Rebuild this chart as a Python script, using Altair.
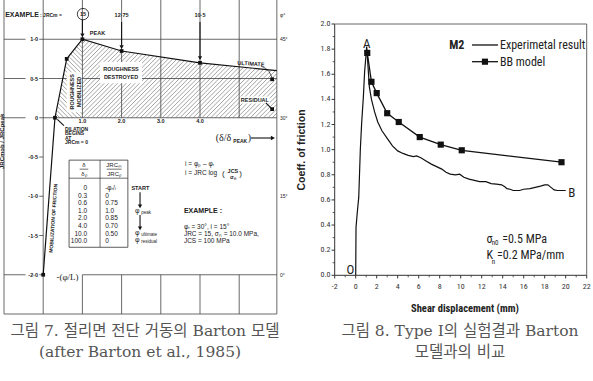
import altair as alt
import numpy as np
import pandas as pd

# ================= Fig. 8 (right panel) data =================
exp_disp = [0.0, 0.03, 0.15, 0.29, 0.44, 0.56, 0.73, 0.85, 1.05, 1.3, 1.5, 1.8, 2.1, 2.5,
            3.0, 3.5, 4.0, 4.5, 5.0, 5.5, 5.8, 6.2, 6.7, 7.2, 7.7, 8.2, 8.6, 9.0, 9.5, 9.9,
            10.3, 10.8, 11.3, 11.8, 12.4, 12.9, 13.4, 13.9, 14.2, 14.4, 14.7, 15.0, 15.6,
            16.0, 16.6, 17.1, 17.6, 18.0, 18.3, 18.6, 18.9, 19.2, 20.0]
exp_coef = [0.0, 0.38, 0.5, 0.62, 1.0, 1.2, 1.42, 1.62, 1.82, 1.5, 1.4, 1.3, 1.22, 1.15,
            1.09, 1.03, 0.99, 0.97, 0.955, 0.945, 0.95, 0.935, 0.91, 0.885, 0.865, 0.845, 0.82,
            0.805, 0.80, 0.805, 0.78, 0.765, 0.755, 0.745, 0.745, 0.73, 0.725, 0.72, 0.705,
            0.69, 0.685, 0.675, 0.675, 0.685, 0.69, 0.70, 0.71, 0.72, 0.72, 0.70, 0.68, 0.675, 0.675]
bb_disp = [1.1, 1.5, 2.0, 3.0, 4.1, 6.1, 8.1, 10.1, 19.6]
bb_coef = [1.77, 1.54, 1.45, 1.29, 1.22, 1.10, 1.04, 0.995, 0.90]
x_ticks = [-2, 0, 2, 4, 6, 8, 10, 12, 14, 16, 18, 20, 22]
x_minor = [-1, 1, 3, 5, 7, 9, 11, 13, 15, 17, 19, 21]
y_ticks = [0.0, 0.2, 0.4, 0.6, 0.8, 1.0, 1.2, 1.4, 1.6, 1.8, 2.0]
y_minor = [0.1, 0.3, 0.5, 0.7, 0.9, 1.1, 1.3, 1.5, 1.7, 1.9]
assert len(exp_disp) == len(exp_coef)

# ================= Fig. 7 (left panel, Barton model) data =================
barton_d = [0.0, 0.3, 0.6, 1.0, 2.0, 4.0, 5.96]
barton_jrc = [-2.0, 0.0, 0.75, 1.0, 0.85, 0.70, 0.60]
left_y_ticks = [1.0, 0.5, 0.0, -0.5, -1.0, -1.5, -2.0]
left_y_labels = ["1·0", "0·5", "0", "-0·5", "-1·0", "-1·5", "-2·0"]
left_x_ticks = [1.0, 2.0, 3.0, 4.0]
left_x_labels = ["1.0", "2.0", "3.0", "4.0"]
phi_levels = [1.0, 0.0, -1.0, -2.0]
phi_labels = ["45°", "30°", "15°", "0°"]
table_d = ["0", "0.3", "0.6", "1.0", "2.0", "4.0", "10.0", "100.0"]
table_jrc = ["-φᵣ/ᵢ", "0", "0.75", "1.0", "0.85", "0.70", "0.50", "0"]

# ================= scales =================
XL_DOM, XL_RNG = [-1, 6], [4, 278.4]
YL_DOM, YL_RNG = [-2.5, 1.5], [314, 0]


def sc(dom, rng):
    return alt.Scale(domain=dom, range=rng, nice=False, zero=False)


XL = sc(XL_DOM, XL_RNG)
YL = sc(YL_DOM, YL_RNG)
XR = sc([-2, 22], [334.7, 586.7])
YR = sc([0, 2], [275.3, 24])

FN = "Liberation Sans, Arial, sans-serif"
NARROW = "Liberation Sans Narrow, Arial Narrow, Roboto Condensed, sans-serif"
SERIF = "Liberation Serif, DejaVu Serif, serif"
KR = "DejaVu Serif, Noto Sans CJK KR, serif"
INK = "#222"

layers = []


def X(sx, f="x"):
    return alt.X(f"{f}:Q", scale=sx, axis=None)


def Y(sy, f="y"):
    return alt.Y(f"{f}:Q", scale=sy, axis=None)


def add_rules(segs, sx, sy, **mk):
    df = pd.DataFrame(segs, columns=["x", "y", "x2", "y2"])
    layers.append(alt.Chart(df).mark_rule(**mk).encode(
        x=X(sx), y=Y(sy), x2="x2:Q", y2="y2:Q"))


def add_rects(segs, sx, sy, **mk):
    df = pd.DataFrame(segs, columns=["x", "y", "x2", "y2"])
    layers.append(alt.Chart(df).mark_rect(**mk).encode(
        x=X(sx), y=Y(sy), x2="x2:Q", y2="y2:Q"))


def add_text(rows, sx, sy, **mk):
    df = pd.DataFrame(rows, columns=["x", "y", "t"])
    mk.setdefault("color", INK)
    layers.append(alt.Chart(df).mark_text(**mk).encode(
        x=X(sx), y=Y(sy), text="t:N"))


def add_points(xs, ys, sx, sy, **mk):
    df = pd.DataFrame({"x": xs, "y": ys})
    layers.append(alt.Chart(df).mark_point(**mk).encode(x=X(sx), y=Y(sy)))


def add_line(xs, ys, sx, sy, **mk):
    df = pd.DataFrame({"x": xs, "y": ys, "i": list(range(len(xs)))})
    layers.append(alt.Chart(df).mark_line(**mk).encode(
        x=X(sx), y=Y(sy), order="i:Q"))


# ---------- hatching of the Barton diagram ----------
def to_px(x):
    return XL_RNG[0] + (x - XL_DOM[0]) / (XL_DOM[1] - XL_DOM[0]) * (XL_RNG[1] - XL_RNG[0])


def to_py(y):
    return YL_RNG[0] + (y - YL_DOM[0]) / (YL_DOM[1] - YL_DOM[0]) * (YL_RNG[1] - YL_RNG[0])


def from_px(p):
    return XL_DOM[0] + (p - XL_RNG[0]) / (XL_RNG[1] - XL_RNG[0]) * (XL_DOM[1] - XL_DOM[0])


def from_py(p):
    return YL_DOM[0] + (p - YL_RNG[0]) / (YL_RNG[1] - YL_RNG[0]) * (YL_DOM[1] - YL_DOM[0])


def hatch(bx, by, forward, step):
    p0, p1 = to_px(bx[0]), to_px(bx[-1])
    ptop, pbot = to_py(max(by)), to_py(0)
    pxs = np.arange(p0, p1 + 0.01, 0.1)
    if forward:
        cs = np.arange(p0 + ptop, p1 + pbot, step)
    else:
        cs = np.arange(ptop - p1, pbot - p0, step)
    segs = []
    for c in cs:
        pys = c - pxs if forward else pxs + c
        xs, ys = from_px(pxs), from_py(pys)
        inside = (ys >= 0) & (ys <= np.interp(xs, bx, by)) & (xs >= bx[0]) & (xs <= bx[-1])
        idx = np.where(inside)[0]
        if len(idx) >= 2:
            segs.append((xs[idx[0]], ys[idx[0]], xs[idx[-1]], ys[idx[-1]]))
    return segs


hatch_segs = hatch(barton_d[1:4], barton_jrc[1:4], False, 4.4) + \
    hatch(barton_d[3:], barton_jrc[3:], True, 4.4)
add_rules(hatch_segs, XL, YL, color="#666", strokeWidth=0.6)

# ---------- grid / frame of the Barton diagram ----------
grid = [(-1, -2.5, -1, 1.5), (0, -2.5, 0, 1.5), (5.96, -2.5, 5.96, 1.5),
        (-1, -2.5, 5.96, -2.5), (1, -2.0, 5.96, -2.0),
        (-1, -2.0, -0.45, -2.0), (-0.1, -2.0, 0, -2.0)]
for k in [1, 2, 3, 4, 5]:
    grid += [(k, 0, k, 1.5), (k, -2.5, k, -2.0)]
for lv in [1.0, 0.5, 0.0]:
    grid += [(-1, lv, -0.45, lv), (-0.1, lv, 5.96, lv)]
for lv in [-0.5, -1.0, -1.5]:
    grid += [(-0.1, lv, 0, lv)]
add_rules(grid, XL, YL, color="#444", strokeWidth=0.8)

# white boxes behind annotations inside hatching
add_rects([(1.45, 0.71, 2.52, 0.44), (0.6, 0.58, 0.98, 0.07), (5.02, 0.27, 5.78, 0.18)],
          XL, YL, color="white")

# Barton curve and its points
add_line(barton_d, barton_jrc, XL, YL, color="#111", strokeWidth=1.2)
add_points(barton_d[:6] + [5.84, 5.84], barton_jrc[:6] + [0.49, 0.11], XL, YL,
           shape="square", filled=True, color="#111", size=14, opacity=1)

# arrows
add_rules([(1, 1.25, 1, 1.07), (2, 1.22, 2, 0.92), (4, 1.22, 4, 0.78),
           (2.47, -0.95, 2.47, -1.12), (2.47, -1.24, 2.47, -1.40),
           (5.30, -0.258, 5.84, -0.258),
           (0.53, -0.10, 0.36, -0.02), (5.68, 0.19, 5.82, 0.12)],
          XL, YL, color="#111", strokeWidth=1.1)
add_points([1, 2, 4, 2.47, 2.47], [1.05, 0.9, 0.76, -1.13, -1.41], XL, YL,
           shape="triangle-down", filled=True, color="#111", size=18, opacity=1)
add_points([5.86], [-0.258], XL, YL, shape="triangle-right", filled=True,
           color="#111", size=22, opacity=1)
add_line([5.55, 5.72, 5.8, 5.84], [0.66, 0.62, 0.56, 0.50], XL, YL,
         color="#111", strokeWidth=0.7, interpolate="basis")
add_points([1.015], [1.32], XL, YL, shape="circle", filled=False, color="#111",
           size=130, strokeWidth=0.8, opacity=1)

# table
add_rects([(0.66, -0.54, 2.16, -1.65)], XL, YL, fill="white", stroke="#333", strokeWidth=0.8)
add_rules([(1.45, -0.54, 1.45, -1.65), (0.66, -0.77, 2.16, -0.77),
           (0.93, -0.655, 1.15, -0.655), (1.62, -0.655, 2.0, -0.655)],
          XL, YL, color="#333", strokeWidth=0.7)
row_y = [-0.895, -0.997, -1.092, -1.188, -1.283, -1.379, -1.475, -1.564]
add_text([(1.12, yy, t) for yy, t in zip(row_y, table_d)], XL, YL,
         align="right", fontSize=6.5, font=FN)
add_text([(1.58, yy, t) for yy, t in zip(row_y, table_jrc)], XL, YL,
         align="left", fontSize=6.5, font=FN)
add_text([(1.04, -0.60, "δ"), (1.04, -0.715, "δₚ"), (1.81, -0.60, "JRCₘ"),
          (1.81, -0.715, "JRCₚ")], XL, YL, fontSize=6, font=FN)

# left-axis labels
add_text([(-0.13, v, t) for v, t in zip(left_y_ticks, left_y_labels)], XL, YL,
         align="right", fontSize=5.5, font=FN, fontWeight="bold")
add_text([(v, -0.045, t) for v, t in zip(left_x_ticks, left_x_labels)], XL, YL,
         fontSize=5.5, font=FN, fontWeight="bold")
add_text([(6.04, v, t) for v, t in zip(phi_levels, phi_labels)] + [(6.04, 1.31, "φ°")],
         XL, YL, align="left", fontSize=5, font=FN)
add_text([(-1.06, -0.3, "JRCmob / JRCpeak")], XL, YL, angle=270, fontSize=6, font=FN,
         fontWeight="bold")

# annotations in the diagram
add_text([(-0.97, 1.31, "EXAMPLE")], XL, YL, align="left", fontSize=7, font=FN,
         fontWeight="bold")
add_text([(-0.08, 1.31, ":  JRCm =")], XL, YL, align="left", fontSize=5, font=FN,
         fontWeight="bold")
add_text([(1.015, 1.32, "15"), (2.0, 1.31, "12·75"), (4.0, 1.31, "10·5")], XL, YL,
         fontSize=5.5, font=FN, fontWeight="bold")
add_text([(1.19, 1.08, "PEAK"), (2.25, -0.895, "START")], XL, YL, align="left",
         fontSize=5.5, font=FN, fontWeight="bold")
add_text([(1.985, 0.62, "ROUGHNESS"), (1.985, 0.52, "DESTROYED"),
          (5.40, 0.226, "RESIDUAL")], XL, YL, fontSize=5.5, font=FN, fontWeight="bold")
add_text([(5.30, 0.69, "ULTIMATE")], XL, YL, fontSize=5.5, font=FN, fontWeight="bold",
         angle=4)
add_text([(0.735, 0.33, "ROUGHNESS"), (0.913, 0.33, "MOBILIZED")], XL, YL, angle=270,
         fontSize=5.5, font=FN, fontWeight="bold")
add_text([(0.556, -0.137, "DILATION"), (0.556, -0.194, "BEGINS"), (0.556, -0.252, "AT"),
          (0.556, -0.309, "JRCm = 0")], XL, YL, align="left", fontSize=5, font=FN,
         fontWeight="bold")
add_text([(0.25, -1.28, "MOBILIZATION  OF  FRICTION")], XL, YL, angle=274, fontSize=5,
         font=FN, fontWeight="bold")
add_text([(4.40, -0.258, "(δ/δ")], XL, YL, align="left", fontSize=10, font=SERIF)
add_text([(5.22, -0.258, ")")], XL, YL, align="left", fontSize=10, font=SERIF)
add_text([(4.85, -0.29, "PEAK")], XL, YL, align="left", fontSize=5, font=FN,
         fontWeight="bold")
add_text([(0.62, -2.03, "-(φ/L)")], XL, YL, fontSize=9, font=SERIF)
add_text([(2.34, -1.188, "φ"), (2.34, -1.462, "φ"), (2.34, -1.551, "φ")], XL, YL,
         align="left", fontSize=7, font=FN)
add_text([(2.5, -1.215, "peak"), (2.5, -1.49, "ultimate"), (2.5, -1.58, "residual")],
         XL, YL, align="left", fontSize=4.5, font=FN)
add_text([(3.62, -0.589, "i = φₚ – φᵣ"), (3.62, -0.704, "i = JRC log"),
          (3.59, -1.392, "φᵣ     = 30°,  i = 15°"),
          (3.59, -1.481, "JRC = 15,  σₙ = 10.0 MPa,"),
          (3.59, -1.57, "JCS = 100 MPa")], XL, YL, align="left", fontSize=6.5, font=FN)
add_text([(4.56, -0.72, "("), (5.0, -0.72, ")")], XL, YL, align="left", fontSize=8,
         font=FN)
add_text([(4.84, -0.68, "JCS"), (4.84, -0.755, "σₙ")], XL, YL, fontSize=5.5, font=FN,
         fontWeight="bold")
add_text([(3.59, -1.188, "EXAMPLE :")], XL, YL, align="left", fontSize=7, font=FN,
         fontWeight="bold")

# ================= right panel =================
add_line(exp_disp, exp_coef, XR, YR, color="#111", strokeWidth=1.2)
add_line(bb_disp, bb_coef, XR, YR, color="#111", strokeWidth=1.3)
add_points(bb_disp, bb_coef, XR, YR, shape="square", filled=True, color="#111",
           size=38, opacity=1)

add_rules([(-2, 0, -2, 2), (-2, 0, 22, 0)], XR, YR, color="#333", strokeWidth=1)
add_rules([(-2, 2, 22, 2), (22, 0, 22, 2)], XR, YR, color="#666", strokeWidth=1)
add_rules([(-2.3, v, -2, v) for v in y_ticks] + [(v, 0, v, -0.025) for v in x_ticks],
          XR, YR, color="#333", strokeWidth=1)
add_rules([(-2.2, v, -2, v) for v in y_minor] + [(v, 0, v, -0.016) for v in x_minor],
          XR, YR, color="#333", strokeWidth=0.8)
add_text([(-2.4, v, f"{v:.1f}") for v in y_ticks], XR, YR, align="right", fontSize=8,
         font=NARROW, color="#333")
add_text([(v, -0.095, str(v)) for v in x_ticks], XR, YR, fontSize=8, font=NARROW,
         color="#333")

# legend
add_text([(10.35, 1.833, "M2")], XR, YR, align="right", fontSize=12, font=NARROW,
         fontWeight="bold")
add_rules([(11.08, 1.833, 13.55, 1.833), (11.08, 1.70, 13.55, 1.70)], XR, YR,
          color="#111", strokeWidth=1.3)
add_points([12.31], [1.70], XR, YR, shape="square", filled=True, color="#111", size=38,
           opacity=1)
add_text([(13.74, 1.833, "Experimetal result"), (13.74, 1.70, "BB model")], XR, YR,
         align="left", fontSize=12, font=NARROW)

# point labels and parameters
add_text([(1.05, 1.84, "A"), (-0.5, 0.04, "O")], XR, YR, fontSize=13, font=NARROW)
add_text([(20.25, 0.657, "B")], XR, YR, align="left", fontSize=13, font=NARROW)
add_text([(12.45, 0.289, "σ"), (12.45, 0.16, "K")], XR, YR, align="left", fontSize=12,
         font=NARROW)
add_text([(12.95, 0.258, "n0"), (12.95, 0.105, "n")], XR, YR, align="left", fontSize=7,
         font=NARROW)
add_text([(13.95, 0.289, "=0.5 MPa"), (13.45, 0.16, "=0.2 MPa/mm")], XR, YR,
         align="left", fontSize=12, font=NARROW)

# axis titles (pixel-placed)
add_text([(465, 309, "Shear displacement (mm)")], None, None, fontSize=10.5, font=NARROW,
         fontWeight="bold")
add_text([(302, 150, "Coeff. of friction")], None, None, angle=270, fontSize=10.5,
         font=FN, fontWeight="bold")

# captions
add_text([(145, 331, "그림 7. 절리면 전단 거동의 Barton 모델"),
          (140, 352, "(after Barton et al., 1985)"),
          (460, 331, "그림 8. Type I의 실험결과 Barton"),
          (460, 352, "모델과의 비교")], None, None, fontSize=15.5, font=KR, color="#555")

chart = alt.layer(*layers).resolve_scale(x="independent", y="independent").properties(
    width=593, height=381, autosize=alt.AutoSizeParams(type="none"), padding=0,
    background="white").configure_view(stroke=None)

chart.save("out.html", embed_options={"renderer": "svg", "actions": False})
